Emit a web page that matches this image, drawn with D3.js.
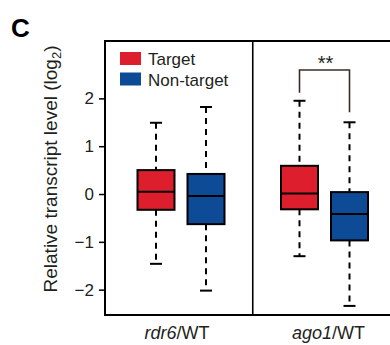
<!DOCTYPE html>
<html><head><meta charset="utf-8">
<script src="https://cdn.jsdelivr.net/npm/d3@7"></script>
<style>body{margin:0;background:#fff}svg{display:block}text{font-family:Arial,"Liberation Sans",sans-serif;fill:#231f20}</style>
</head><body><svg id="c" width="390" height="345"></svg>
<script>
const groups = ["rdr6", "ago1"];
const series = ["Target", "Non-target"];
const colors = ["#dc1e2d", "#0d4b97"];
// [whiskerLow, q1, median, q3, whiskerHigh] per group, per series
const targetStats = [[-1.46, -0.33, 0.05, 0.50, 1.49], [-1.30, -0.32, 0.01, 0.59, 1.95]];
const nonTargetStats = [[-2.02, -0.63, -0.04, 0.42, 1.82], [-2.34, -0.97, -0.42, 0.04, 1.50]];
const yTicks = [-2, -1, 0, 1, 2];

const svg = d3.select("#c");
const y = d3.scaleLinear().domain([-2.53, 3.2]).range([315, 41]);
const x0 = d3.scaleBand().domain(groups).range([109.25, 396.25]);
const x1 = d3.scalePoint().domain(series).range([-25, 25]);
const boxW = 37, capW = 12;

// frame
const fr = svg.append("g").attr("stroke", "#000").attr("stroke-width", 2).attr("fill", "none");
fr.append("line").attr("x1", 105).attr("x2", 390).attr("y1", 41).attr("y2", 41);
fr.append("line").attr("x1", 105).attr("x2", 390).attr("y1", 315).attr("y2", 315);
fr.append("line").attr("x1", 105).attr("x2", 105).attr("y1", 40).attr("y2", 316);
const div = x0("ago1");
fr.append("line").attr("x1", div).attr("x2", div).attr("y1", 41).attr("y2", 315).attr("stroke-width", 1.6);

// y axis
const ax = svg.append("g").attr("transform", "translate(105,0)")
  .call(d3.axisLeft(y).tickValues(yTicks).tickSize(6).tickPadding(5).tickFormat(d3.format("d")));
ax.select(".domain").remove();
ax.selectAll(".tick line").attr("stroke", "#000").attr("stroke-width", 1.5);
ax.selectAll(".tick text").attr("font-size", 17).style("fill", "#231f20");

// boxes
const statsBySeries = [targetStats, nonTargetStats];
groups.forEach((g, gi) => {
  series.forEach((s, si) => {
    const st = statsBySeries[si][gi];
    const cx = x0(g) + x0.bandwidth() / 2 + x1(s);
    const b = svg.append("g");
    b.append("line").attr("x1", cx).attr("x2", cx).attr("y1", y(st[4])).attr("y2", y(st[3]))
      .attr("stroke", "#000").attr("stroke-width", 2).attr("stroke-dasharray", "6,5");
    b.append("line").attr("x1", cx).attr("x2", cx).attr("y1", y(st[1])).attr("y2", y(st[0]))
      .attr("stroke", "#000").attr("stroke-width", 2).attr("stroke-dasharray", "6,5");
    [st[0], st[4]].forEach(v => b.append("line").attr("x1", cx - capW / 2).attr("x2", cx + capW / 2)
      .attr("y1", y(v)).attr("y2", y(v)).attr("stroke", "#000").attr("stroke-width", 2));
    b.append("rect").attr("x", cx - boxW / 2).attr("width", boxW).attr("y", y(st[3]))
      .attr("height", y(st[1]) - y(st[3])).attr("fill", colors[si]).attr("stroke", "#000").attr("stroke-width", 2);
    b.append("line").attr("x1", cx - boxW / 2).attr("x2", cx + boxW / 2).attr("y1", y(st[2])).attr("y2", y(st[2]))
      .attr("stroke", "#000").attr("stroke-width", 2);
  });
});

// significance bracket
{
  const g = "ago1";
  const xa = x0(g) + x0.bandwidth() / 2 + x1("Target");
  const xb = x0(g) + x0.bandwidth() / 2 + x1("Non-target");
  const ya = y(targetStats[1][4]) - 8, yb = y(nonTargetStats[1][4]) - 10, yt = 70;
  svg.append("path").attr("d", `M${xa},${ya}V${yt}H${xb}V${yb}`).attr("fill", "none")
    .attr("stroke", "#3b2b29").attr("stroke-width", 1.6);
  svg.append("text").attr("x", (xa + xb) / 2 + 1).attr("y", 70).attr("text-anchor", "middle")
    .attr("font-size", 20).text("**");
}

// legend
series.forEach((s, i) => {
  svg.append("rect").attr("x", 120).attr("y", 52 + i * 20.5).attr("width", 21).attr("height", 13).attr("fill", colors[i]);
  svg.append("text").attr("x", 148).attr("y", 65 + i * 20.5).attr("font-size", 17).text(s);
});

// x labels
groups.forEach(g => {
  const t = svg.append("text").attr("x", x0(g) + x0.bandwidth() / 2 + (g === "rdr6" ? -4 : 4)).attr("y", 339)
    .attr("text-anchor", "middle").attr("font-size", 18);
  t.append("tspan").attr("font-style", "italic").text(g);
  t.append("tspan").text("/WT");
});

// y label
const yl = svg.append("text").attr("transform", "translate(57,169) rotate(-90)").attr("text-anchor", "middle").attr("font-size", 19);
yl.append("tspan").text("Relative transcript level (log");
yl.append("tspan").attr("font-size", 13).attr("dy", 4).text("2");
yl.append("tspan").attr("dy", -4).text(")");

// panel letter
svg.append("text").attr("x", 11).attr("y", 37).attr("font-size", 26).attr("font-weight", "bold").style("fill", "#000").text("C");
</script></body></html>
